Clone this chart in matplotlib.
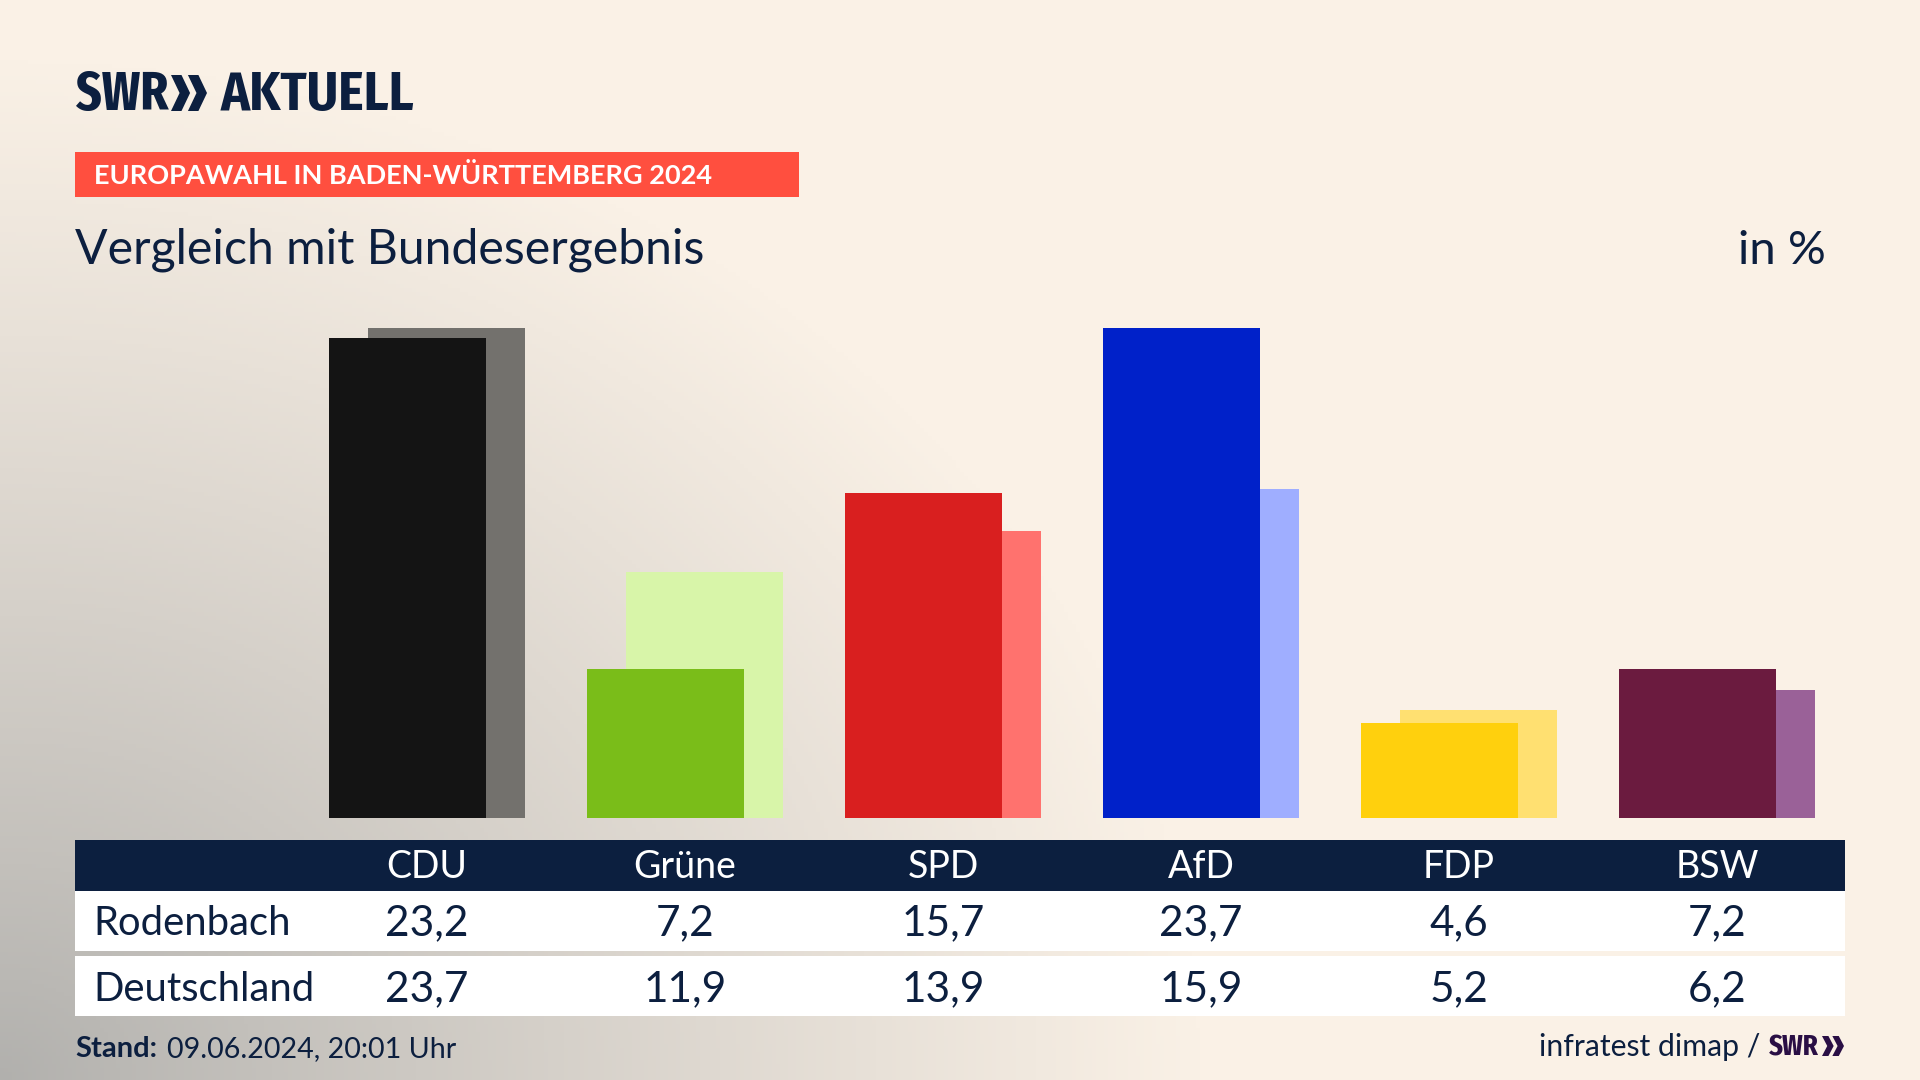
#!/usr/bin/env python3
# -*- coding: utf-8 -*-

"""Europawahl bar chart, Rodenbach against Bundesergebnis"""

import matplotlib
matplotlib.use("Agg")
import logging
import matplotlib.pyplot as plt
import numpy as np
from matplotlib.colors import to_rgb
from matplotlib.patches import Polygon, Rectangle

parties = ["CDU", "Grüne", "SPD", "AfD", "FDP", "BSW"]
rodenbach = [23.2, 7.2, 15.7, 23.7, 4.6, 7.2]
deutschland = [23.7, 11.9, 13.9, 15.9, 5.2, 6.2]
row_names = ["Rodenbach", "Deutschland"]

dark_colors = ["#141414", "#7ABD19", "#D91F1F", "#0021C9", "#FFD00D", "#6B1B3F"]
light_colors = ["#73716D", "#D8F5A9", "#FF726E", "#9FAEFF", "#FFE071", "#9A6198"]

NAVY = "#0C1F3F"
W, H = 1920, 1080

# Condensed face where there is one, Lato otherwise
logging.getLogger("matplotlib.font_manager").setLevel(logging.ERROR)
NARROW = ["Fira Sans Extra Condensed", "Fira Sans Condensed", "Lato"]
LOGO = ["Fira Sans Condensed", "Lato"]
plt.rcParams["font.family"] = ["Lato", "DejaVu Sans"]


def background():
    # Grey glow from the lower left corner into the cream
    xx, yy = np.meshgrid(np.linspace(0, W, 480), np.linspace(0, H, 270))
    t = np.clip(np.sqrt((xx / 1200) ** 2 + ((H - yy) / 1020) ** 2), 0, 1)
    t = t[..., None] ** 0.9
    return (1 - t) * np.array(to_rgb("#B1B0AD")) + t * np.array(to_rgb("#FAF1E6"))


def chevrons(ax, x, top, bottom, width, color):
    mid = (top + bottom) / 2
    gap = width * 0.47
    arm = width * 0.53
    thick = arm * 0.55
    for x0 in (x, x + gap):
        ax.add_patch(Polygon([(x0, top), (x0 + thick, top), (x0 + arm, mid),
                              (x0 + thick, bottom), (x0, bottom),
                              (x0 + arm - thick, mid)],
                             closed=True, color=color, lw=0, zorder=4))


fig = plt.figure(figsize=(W / 100, H / 100), dpi=100)

# Page layer in pixel coordinates
page = fig.add_axes([0, 0, 1, 1], zorder=0)
page.set_xlim(0, W)
page.set_ylim(H, 0)
page.axis("off")
page.imshow(background(), extent=(0, W, H, 0), aspect="auto", zorder=0)

# Bars
ax = fig.add_axes([298 / W, (H - 818) / H, 1548 / W, 490 / H], zorder=1)
ax.patch.set_alpha(0)
ax.set_xlim(-0.5, 5.5)
ax.set_ylim(0, 23.7)
ax.axis("off")
x = np.arange(len(parties))
ax.bar(x + 0.0756, deutschland, width=0.605, color=light_colors, zorder=1)
ax.bar(x - 0.0756, rodenbach, width=0.605, color=dark_colors, zorder=2)

# Header block
page.text(76, 110, "SWR", color=NAVY, family=NARROW, weight="bold", fontsize=39,
          va="baseline", ha="left")
chevrons(page, 171, 75, 111, 36, NAVY)
page.text(221, 110, "AKTUELL", color=NAVY, family=LOGO, weight="bold", fontsize=38.7,
          va="baseline", ha="left")

page.add_patch(Rectangle((75, 152), 724, 45, color="#FF4F3F", lw=0, zorder=2))
page.text(94, 184, "EUROPAWAHL IN BADEN-WÜRTTEMBERG 2024", color="white",
          weight="bold", fontsize=19.5, va="baseline", zorder=3)
page.text(75, 264, "Vergleich mit Bundesergebnis", color=NAVY, fontsize=34.7,
          va="baseline", zorder=3)
page.text(1826, 264, "in %", color=NAVY, fontsize=34, va="baseline", ha="right", zorder=3)

# Table
page.add_patch(Rectangle((75, 840), 1770, 51, color=NAVY, lw=0, zorder=2))
page.add_patch(Rectangle((75, 891), 1770, 60, color="white", lw=0, zorder=2))
page.add_patch(Rectangle((75, 956), 1770, 60, color="white", lw=0, zorder=2))

for i, name in enumerate(parties):
    cx = 427 + 258 * i
    page.text(cx, 878, name, color="white", fontsize=27, ha="center", va="baseline", zorder=3)
    page.text(cx, 935, f"{rodenbach[i]:.1f}".replace(".", ","), color=NAVY, fontsize=30.5,
              ha="center", va="baseline", zorder=3)
    page.text(cx, 1001, f"{deutschland[i]:.1f}".replace(".", ","), color=NAVY, fontsize=30.5,
              ha="center", va="baseline", zorder=3)

page.text(93, 935, row_names[0], color=NAVY, fontsize=28.8, va="baseline", zorder=3)
page.text(93, 1001, row_names[1], color=NAVY, fontsize=28.8, va="baseline", zorder=3)

# Footer
page.text(75, 1057, "Stand:", color=NAVY, weight="bold", fontsize=21, va="baseline", zorder=3)
page.text(167, 1057, "09.06.2024, 20:01 Uhr", color=NAVY, fontsize=20.6, va="baseline", zorder=3)
page.text(1760, 1056, "infratest dimap /", color=NAVY, fontsize=21.7, va="baseline",
          ha="right", zorder=3)
page.text(1769, 1055, "SWR", color="#2A0F45", family=NARROW, weight="bold", fontsize=21,
          va="baseline", zorder=3)
chevrons(page, 1822, 1036, 1056, 22, "#2A0F45")

fig.savefig("out.png", dpi=100)
plt.close(fig)
